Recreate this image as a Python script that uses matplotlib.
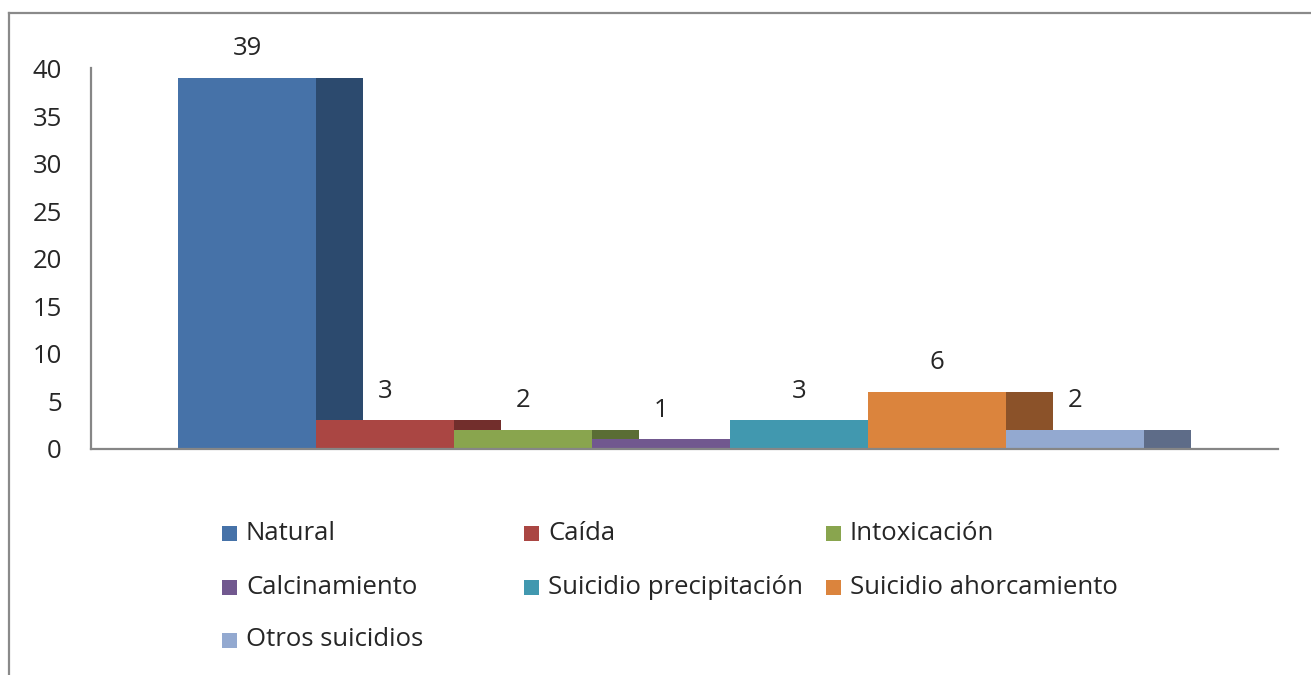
import matplotlib
matplotlib.use("Agg")
import matplotlib.pyplot as plt
from matplotlib.patches import Rectangle
from matplotlib.lines import Line2D

categories = ["Natural", "Caída", "Intoxicación", "Calcinamiento",
              "Suicidio precipitación", "Suicidio ahorcamiento", "Otros suicidios"]
values = [39, 3, 2, 1, 3, 6, 2]
yticks = [0, 5, 10, 15, 20, 25, 30, 35, 40]

front_colors = ["#4672A8", "#AA4643", "#89A54E", "#71588F", "#4198AF", "#DB843D", "#93A9D0"]
side_colors = ["#2C4A6E", "#722E2C", "#5A6D34", "#4A3A5E", "#2A6474", "#8B5229", "#5E6C88"]

FS = 18.5
TXT = '#262626'
plt.rcParams['font.family'] = ['Open Sans', 'DejaVu Sans']
fig = plt.figure(figsize=(13.11, 6.75), dpi=100)
ax = fig.add_axes([91/1311, 1-449/675, (1278-91)/1311, (449-68.5)/675])

x0 = 0.63
depth = 0.34
for i, (v, fc, sc) in enumerate(zip(values, front_colors, side_colors)):
    ax.bar(x0 + i + 1, v, width=depth, align='edge', color=sc, linewidth=0, zorder=2 + 2*i)
    ax.bar(x0 + i, v, width=1.0, align='edge', color=fc, linewidth=0, zorder=3 + 2*i)
    ax.annotate(str(v), (x0 + i + 0.5, v), xytext=(0, 21), textcoords='offset points',
                ha='center', va='center', fontsize=FS, color=TXT, zorder=30)

ax.set_xlim(0, (1278-91)/138)
ax.set_ylim(0, 40)
ax.set_yticks(yticks)
ax.set_xticks([])
ax.tick_params(axis='y', length=0, pad=21, labelsize=FS, labelcolor=TXT)
for s in ['top', 'right']:
    ax.spines[s].set_visible(False)
for s in ['left', 'bottom']:
    ax.spines[s].set_color('#868686')
    ax.spines[s].set_linewidth(1.6)
    ax.spines[s].set_zorder(40)

# chart border
fig.add_artist(Line2D([9/1311, 9/1311], [0, 1-13/675], transform=fig.transFigure,
                      color='#8a8a8a', lw=1.6))
fig.add_artist(Line2D([9/1311, 1], [1-13/675, 1-13/675], transform=fig.transFigure,
                      color='#8a8a8a', lw=1.6))

# legend
col_x = [222, 524, 826]
row_y = [533.5, 587, 640]
for i, (name, fc) in enumerate(zip(categories, front_colors)):
    r, c = divmod(i, 3)
    xs, ys = col_x[c], row_y[r]
    fig.add_artist(Rectangle((xs/1311, 1-(ys+7.5)/675), 15/1311, 15/675,
                             transform=fig.transFigure, facecolor=fc, edgecolor='none'))
    fig.text((xs+24)/1311, 1-ys/675, name, fontsize=FS, va='center', ha='left', color=TXT)

fig.savefig("out.png", dpi=100)
